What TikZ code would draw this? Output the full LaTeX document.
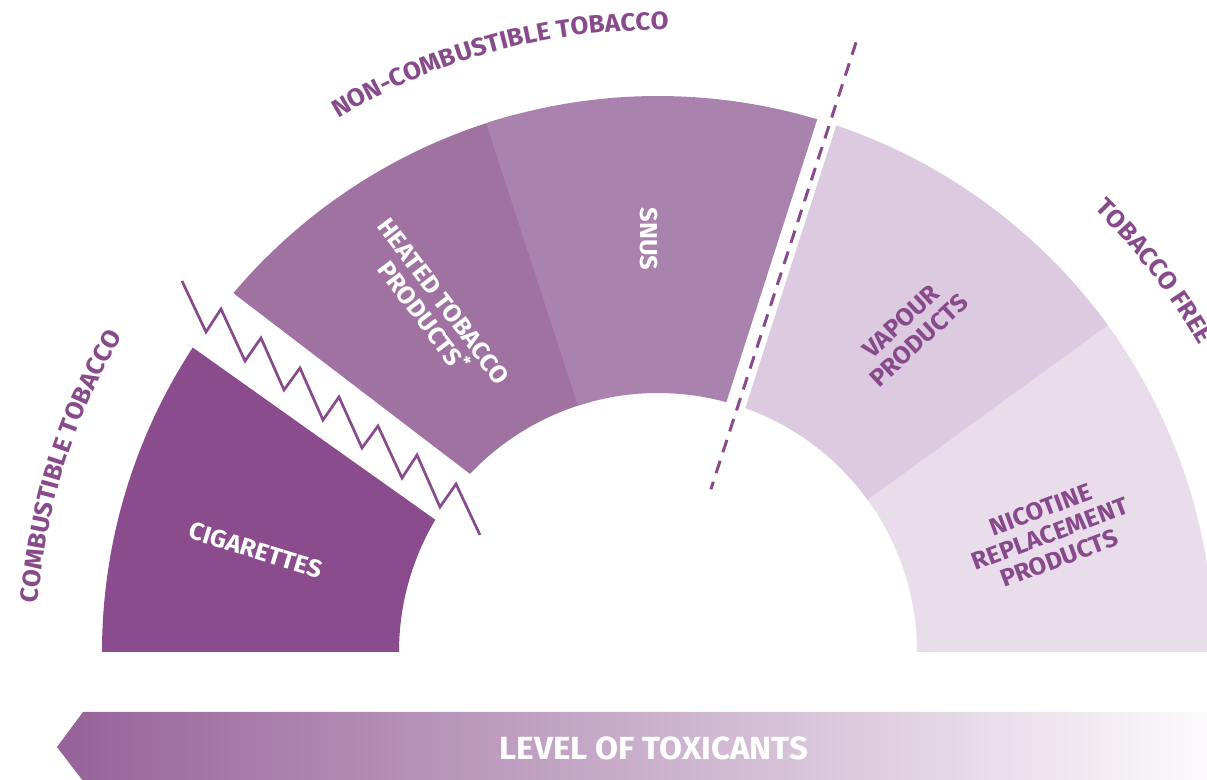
\documentclass[tikz,border=0pt]{standalone}
\usepackage{fontspec}
\setmainfont{Fira Sans}[FakeStretch=1.04]
\usetikzlibrary{decorations.text}
\definecolor{cigc}{RGB}{138,76,141}
\definecolor{heatc}{RGB}{160,114,162}
\definecolor{snusc}{RGB}{170,130,174}
\definecolor{vapc}{RGB}{220,202,224}
\definecolor{nrtc}{RGB}{233,221,235}
\definecolor{tpurple}{RGB}{135,75,140}
\definecolor{arrL}{RGB}{150,98,153}
\definecolor{arrR}{RGB}{252,250,252}
\begin{document}
\begin{tikzpicture}[x=1pt,y=1pt,
  lab/.style={font=\fontsize{24.5}{26}\selectfont\bfseries, align=center, inner sep=0pt},
  wlab/.style={lab, text=white},
  plab/.style={lab, text=tpurple},
  sepline/.style={tpurple, line width=2.7pt},
]
\useasboundingbox (0,0) rectangle (1207,779);
\clip (0,0) rectangle (1207,779);
\coordinate (C) at (658,127);
\begin{scope}[shift={(C)}]
  % segments
  \fill[cigc] (180:556) arc[start angle=180,end angle=146.8,radius=556] -- (149.3:259) arc[start angle=149.3,end angle=180,radius=259] -- cycle;
  \fill[heatc] (139.8:556) arc[start angle=139.8,end angle=105,radius=556] -- (105:259) arc[start angle=105,end angle=136.55,radius=259] -- cycle;
  \fill[snusc] (108:556) arc[start angle=108,end angle=73.36,radius=556] -- (74.7:259) arc[start angle=74.7,end angle=108,radius=259] -- cycle;
  \fill[nrtc] (38:556) arc[start angle=38,end angle=0,radius=556] -- (0:259) arc[start angle=0,end angle=38,radius=259] -- cycle;
  \fill[vapc] (71.3:556) arc[start angle=71.3,end angle=36,radius=556] -- (36:259) arc[start angle=36,end angle=70.3,radius=259] -- cycle;
  % dashed separator
  \coordinate (d1) at (72:641);
  \coordinate (d2) at (72:171);
  \draw[sepline, line width=3pt, dash pattern=on 13pt off 9pt] (d1) -- (d2);
  % curved group labels
  \path[decorate, decoration={text along path, text align=center, text color=tpurple,
      text={|\fontsize{25}{25}\selectfont\bfseries|NON-COMBUSTIBLE TOBACCO}}]
      (140:622) arc[start angle=140,end angle=70,radius=622];
  \path[decorate, decoration={text along path, text align=center, text color=tpurple,
      text={|\fontsize{25}{25}\selectfont\bfseries|COMBUSTIBLE TOBACCO}}]
      (187.5:622) arc[start angle=187.5,end angle=137.5,radius=622];
  \path[decorate, decoration={text along path, text align=center, text color=tpurple,
      text={|\fontsize{25}{25}\selectfont\bfseries|TOBACCO FREE}}]
      (57.5:622) arc[start angle=57.5,end angle=17.5,radius=622];
\end{scope}
% zigzag separator
\coordinate (z0) at (182,498);
\coordinate (z1) at (480,244);
\draw[sepline, line join=miter] (z0) -- (206,447) -- (221,470) -- (245,418) -- (261,441) -- (284,389) -- (300,411) -- (323,359) -- (339,382) -- (362,331) -- (378,353) -- (402,301) -- (417,324) -- (440,272) -- (456,295) -- (z1);
% segment labels
\node[wlab, rotate=-17] (cig) at (256,229) {CIGARETTES};
\node[wlab, rotate=-53] (htp) at (433,470) {HEATED TOBACCO\\PRODUCTS\textsuperscript{*}};
\node[wlab, rotate=-90] (snus) at (649,540) {SNUS};
\node[plab, rotate=43] (vap) at (910,448) {VAPOUR\\PRODUCTS};
\node[plab, rotate=20.5] (nrt) at (1050,245) {NICOTINE\\REPLACEMENT\\PRODUCTS};
% toxicant arrow
\shade[left color=arrL, right color=arrR] (57,32) -- (83,67) -- (1210,67) -- (1210,-2) -- (83,-2) -- cycle;
\node[font=\fontsize{32}{32}\selectfont\bfseries, text=white, inner sep=0pt] (lvl) at (654,30.5) {LEVEL OF TOXICANTS};
\end{tikzpicture}
\end{document}
